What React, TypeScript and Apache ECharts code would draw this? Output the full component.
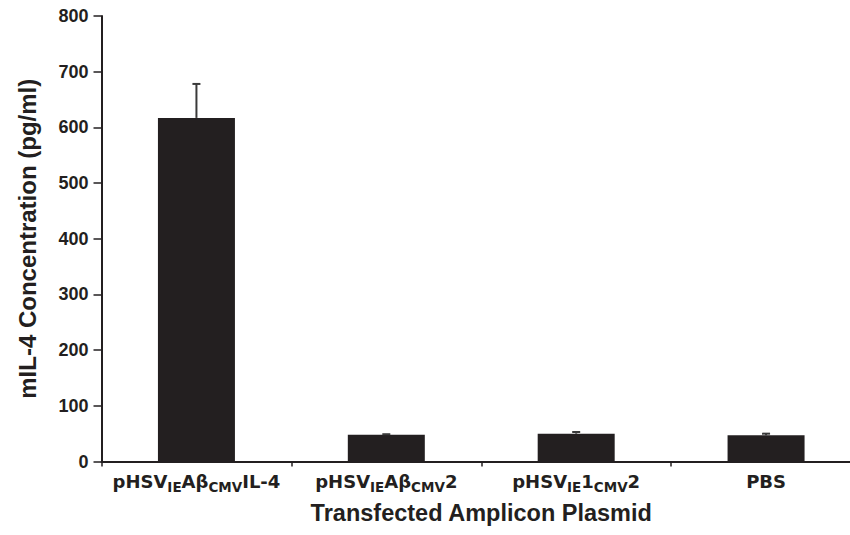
import React, { useEffect, useRef } from "react";
import * as echarts from "echarts";

const categories = [
  "pHSV{s|IE}Aβ{s|CMV}IL-4",
  "pHSV{s|IE}Aβ{s|CMV}2",
  "pHSV{s|IE}1{s|CMV}2",
  "PBS",
];
const values = [617, 48, 50, 47];
const errors = [61, 1, 3, 3];
const yTicks = { min: 0, max: 800, interval: 100 };
const xTitle = "Transfected Amplicon Plasmid";
const yTitle = "mIL-4 Concentration (pg/ml)";

const INK = "#231f20";

export default function App() {
  const ref = useRef<HTMLDivElement>(null);
  useEffect(() => {
    if (!ref.current) return;
    const chart = echarts.init(ref.current, null, { renderer: "svg" });
    const errData = values.map((v, i) => [i, v, errors[i]]);
    chart.setOption({
      animation: false,
      backgroundColor: "#ffffff",
      grid: {
        left: 101.5,
        right: -11,
        top: 16,
        bottom: 73.5,
        outerBoundsMode: "none",
        containLabel: false,
      },
      xAxis: {
        type: "category",
        data: categories,
        boundaryGap: true,
        name: xTitle,
        nameLocation: "middle",
        nameGap: 39,
        nameTextStyle: {
          fontFamily: "Liberation Sans",
          fontWeight: "bold",
          fontSize: 23.5,
          color: INK,
        },
        axisLine: { show: true, lineStyle: { color: INK, width: 2 } },
        axisTick: { show: true, length: 5, lineStyle: { color: INK, width: 1.5 } },
        axisLabel: {
          margin: 9,
          fontFamily: "DejaVu Sans",
          fontWeight: "bold",
          fontSize: 18,
          lineHeight: 22,
          color: INK,
          interval: 0,
          rich: {
            s: {
              fontFamily: "DejaVu Sans",
              fontWeight: "bold",
              fontSize: 13.5,
              lineHeight: 14,
              padding: [10, 0, 0, 0],
              color: INK,
            },
          },
        },
        splitLine: { show: false },
      },
      yAxis: {
        type: "value",
        min: yTicks.min,
        max: yTicks.max,
        interval: yTicks.interval,
        name: yTitle,
        nameLocation: "middle",
        nameGap: 62,
        nameTextStyle: {
          fontFamily: "Liberation Sans",
          fontWeight: "bold",
          fontSize: 24,
          color: INK,
        },
        axisLine: { show: true, lineStyle: { color: INK, width: 2 } },
        axisTick: { show: true, length: 8, lineStyle: { color: INK, width: 1.5 } },
        axisLabel: {
          margin: 13,
          fontFamily: "Liberation Sans",
          fontWeight: "bold",
          fontSize: 18,
          color: INK,
        },
        splitLine: { show: false },
      },
      series: [
        {
          type: "bar",
          data: values,
          barWidth: 77,
          itemStyle: { color: INK },
          z: 2,
        },
        {
          type: "custom",
          data: errData,
          z: 3,
          renderItem: (params: any, api: any) => {
            const i = api.value(0);
            const v = api.value(1);
            const e = api.value(2);
            const base = api.coord([i, v]);
            const top = api.coord([i, v + e]);
            const cap = 4;
            return {
              type: "group",
              children: [
                {
                  type: "line",
                  shape: { x1: base[0], y1: base[1], x2: top[0], y2: top[1] },
                  style: { stroke: "#3a3a3a", lineWidth: 2 },
                },
                {
                  type: "line",
                  shape: { x1: top[0] - cap, y1: top[1], x2: top[0] + cap, y2: top[1] },
                  style: { stroke: "#3a3a3a", lineWidth: 2 },
                },
              ],
            };
          },
        },
      ],
    });
    return () => chart.dispose();
  }, []);
  return (
    <div
      ref={ref}
      style={{ position: "fixed", left: 0, top: 0, width: 850, height: 535 }}
    />
  );
}
